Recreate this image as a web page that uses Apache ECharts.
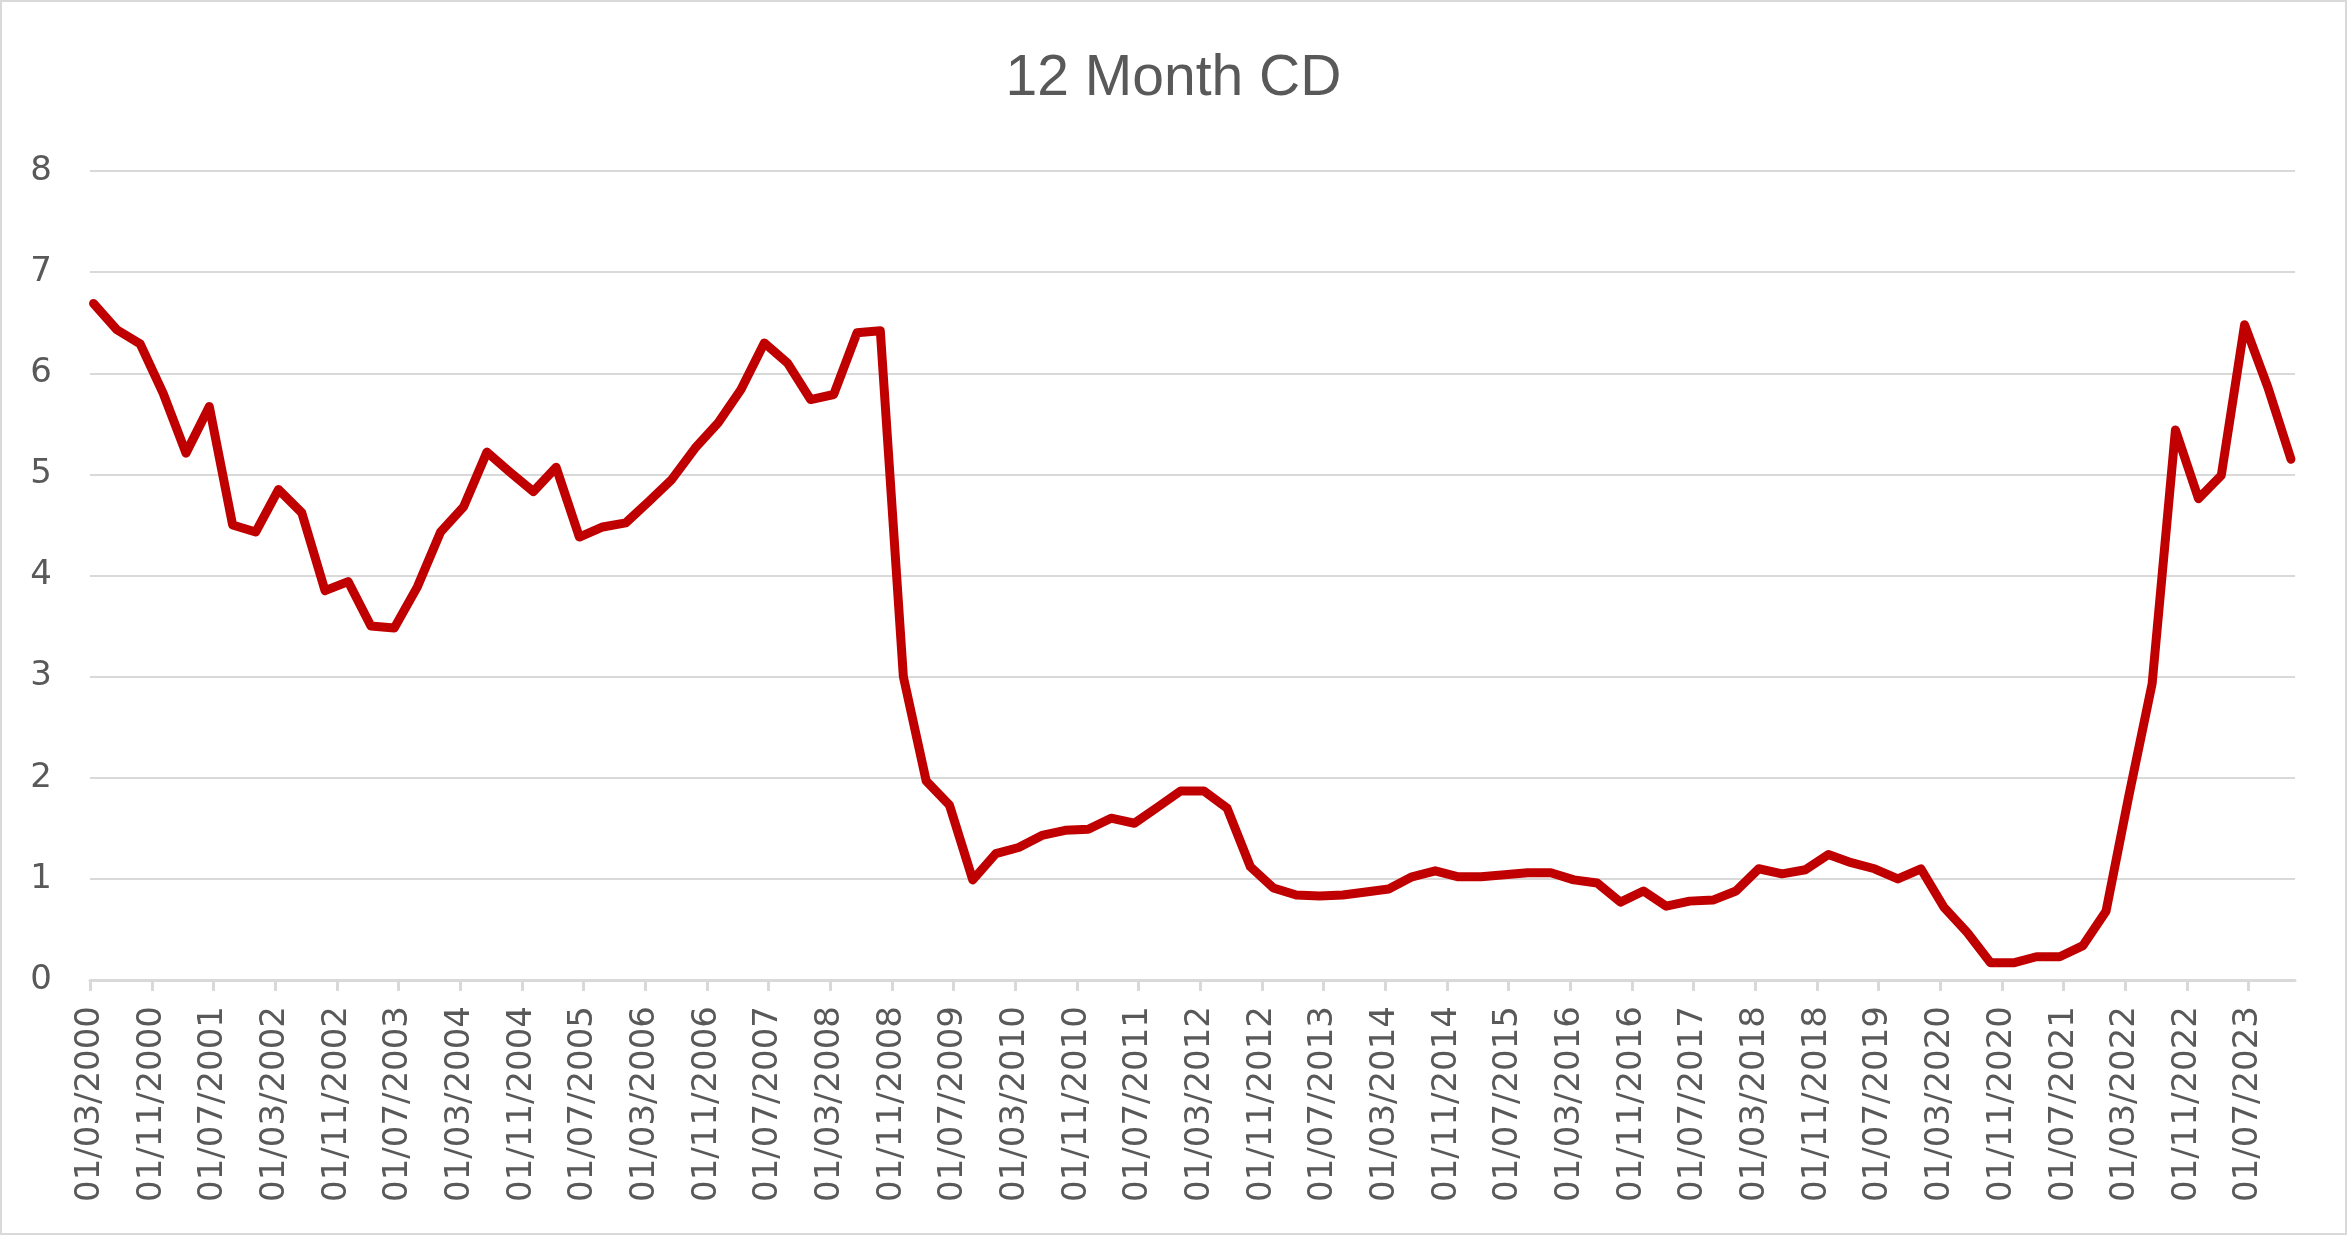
<!DOCTYPE html>
<html>
<head>
<meta charset="utf-8">
<script src="https://cdn.jsdelivr.net/npm/echarts@6/dist/echarts.min.js"></script>
<style>
html,body{margin:0;padding:0;background:#fff;}
#chart{width:2347px;height:1236px;}
</style>
</head>
<body>
<div id="chart"></div>
<script>
const titleText = '12 Month CD';
const seriesName = '12 Month CD';

// Quarterly observation dates
const dates = [
'2000-03-15','2000-06-15','2000-09-15','2000-12-15',
'2001-03-15','2001-06-15','2001-09-15','2001-12-15',
'2002-03-15','2002-06-15','2002-09-15','2002-12-15',
'2003-03-15','2003-06-15','2003-09-15','2003-12-15',
'2004-03-15','2004-06-15','2004-09-15','2004-12-15',
'2005-03-15','2005-06-15','2005-09-15','2005-12-15',
'2006-03-15','2006-06-15','2006-09-15','2006-12-15',
'2007-03-15','2007-06-15','2007-09-15','2007-12-15',
'2008-03-15','2008-06-15','2008-09-15','2008-12-15',
'2009-03-15','2009-06-15','2009-09-15','2009-12-15',
'2010-03-15','2010-06-15','2010-09-15','2010-12-15',
'2011-03-15','2011-06-15','2011-09-15','2011-12-15',
'2012-03-15','2012-06-15','2012-09-15','2012-12-15',
'2013-03-15','2013-06-15','2013-09-15','2013-12-15',
'2014-03-15','2014-06-15','2014-09-15','2014-12-15',
'2015-03-15','2015-06-15','2015-09-15','2015-12-15',
'2016-03-15','2016-06-15','2016-09-15','2016-12-15',
'2017-03-15','2017-06-15','2017-09-15','2017-12-15',
'2018-03-15','2018-06-15','2018-09-15','2018-12-15',
'2019-03-15','2019-06-15','2019-09-15','2019-12-15',
'2020-03-15','2020-06-15','2020-09-15','2020-12-15',
'2021-03-15','2021-06-15','2021-09-15','2021-12-15',
'2022-03-15','2022-06-15','2022-09-15','2022-12-15',
'2023-03-15','2023-06-15','2023-09-15','2023-12-15'
];

// 12 Month CD rate (%)
const rates = [
6.69, 6.43, 6.29, 5.80,
5.21, 5.67, 4.50, 4.43,
4.85, 4.62, 3.85, 3.94,
3.50, 3.48, 3.89, 4.43,
4.68, 5.22, 5.02, 4.83,
5.07, 4.38, 4.48, 4.52,
4.73, 4.95, 5.26, 5.51,
5.84, 6.30, 6.10, 5.74,
5.79, 6.40, 6.42, 3.00,
1.97, 1.73, 0.99, 1.25,
1.31, 1.43, 1.48, 1.49,
1.60, 1.55, 1.71, 1.87,
1.87, 1.70, 1.12, 0.91,
0.84, 0.83, 0.84, 0.87,
0.90, 1.02, 1.08, 1.02,
1.02, 1.04, 1.06, 1.06,
0.99, 0.96, 0.77, 0.88,
0.73, 0.78, 0.79, 0.88,
1.10, 1.05, 1.09, 1.24,
1.16, 1.10, 1.00, 1.10,
0.72, 0.47, 0.17, 0.17,
0.23, 0.23, 0.34, 0.68,
1.82, 2.93, 5.44, 4.76,
4.99, 6.48, 5.86, 5.15
];

// X tick labels (every 8 months)
const xTickLabels = [
'01/03/2000','01/11/2000','01/07/2001','01/03/2002','01/11/2002','01/07/2003',
'01/03/2004','01/11/2004','01/07/2005','01/03/2006','01/11/2006','01/07/2007',
'01/03/2008','01/11/2008','01/07/2009','01/03/2010','01/11/2010','01/07/2011',
'01/03/2012','01/11/2012','01/07/2013','01/03/2014','01/11/2014','01/07/2015',
'01/03/2016','01/11/2016','01/07/2017','01/03/2018','01/11/2018','01/07/2019',
'01/03/2020','01/11/2020','01/07/2021','01/03/2022','01/11/2022','01/07/2023'
];
const xMinDate = '2000-03-01';
const xMaxDate = '2023-12-31';
const yTicks = [0,1,2,3,4,5,6,7,8];

function parseDMY(s){ const p = s.split('/'); return Date.UTC(+p[2], +p[1]-1, +p[0]); }
function parseISO(s){ const p = s.split('-'); return Date.UTC(+p[0], +p[1]-1, +p[2]); }

const tickValues = xTickLabels.map(parseDMY);
const labelMap = {};
tickValues.forEach((v,i)=>{ labelMap[v] = xTickLabels[i]; });
const seriesData = dates.map((d,i)=>[parseISO(d), rates[i]]);

const chart = echarts.init(document.getElementById('chart'), null, {renderer:'canvas'});
const axisColor = '#D9D9D9';
const textColor = '#595959';
chart.setOption({
  animation: false,
  backgroundColor: '#ffffff',
  title: {
    text: titleText,
    left: 'center',
    top: 46,
    textStyle: {fontFamily: 'Liberation Sans', fontSize: 57, fontWeight: 'normal', color: textColor}
  },
  graphic: [{
    type: 'rect', silent: true,
    shape: {x: 1, y: 1, width: 2345, height: 1233},
    style: {fill: 'none', stroke: axisColor, lineWidth: 2}
  }],
  grid: {left: 90, right: 52, top: 171, bottom: 256, containLabel: false, outerBoundsMode: 'none'},
  xAxis: {
    type: 'value',
    min: parseISO(xMinDate),
    max: parseISO(xMaxDate),
    splitLine: {show: false},
    axisLine: {show: true, lineStyle: {color: axisColor, width: 3}},
    axisTick: {show: true, customValues: tickValues, length: 11, lineStyle: {color: axisColor, width: 3}},
    axisLabel: {
      customValues: tickValues,
      rotate: 90,
      margin: 26,
      fontFamily: 'DejaVu Sans',
      fontSize: 34,
      color: textColor,
      formatter: function(v){ return labelMap[v] || ''; }
    }
  },
  yAxis: {
    type: 'value',
    min: yTicks[0],
    max: yTicks[yTicks.length-1],
    interval: 1,
    axisLine: {show: false},
    axisTick: {show: false},
    splitLine: {show: true, lineStyle: {color: axisColor, width: 2}},
    axisLabel: {margin: 38, fontFamily: 'DejaVu Sans', fontSize: 34, color: textColor}
  },
  series: [{
    name: seriesName,
    type: 'line',
    data: seriesData,
    showSymbol: false,
    symbol: 'none',
    lineStyle: {color: '#C00000', width: 9, join: 'round', cap: 'round'},
    itemStyle: {color: '#C00000'}
  }]
});
</script>
</body>
</html>
